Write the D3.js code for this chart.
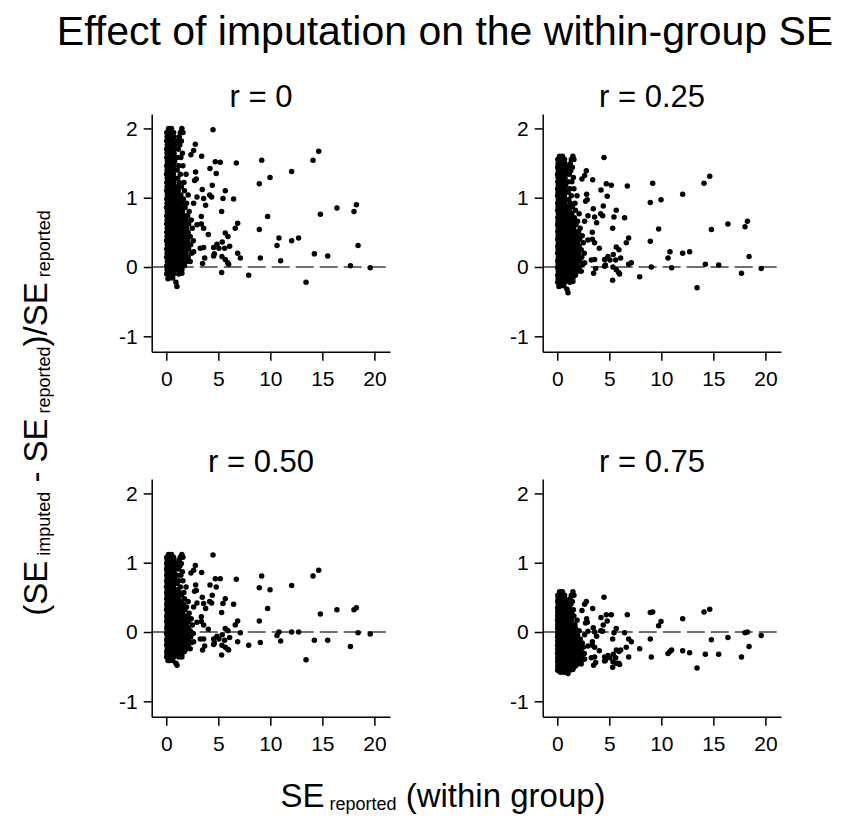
<!DOCTYPE html>
<html><head><meta charset="utf-8">
<script src="https://cdn.jsdelivr.net/npm/d3@7"></script>
<style>body{margin:0;background:#fff}svg{display:block}</style>
</head><body>
<svg id="chart" width="842" height="820"></svg>
<script>
const chartTitle = "Effect of imputation on the within-group SE";
const panelTitles = ["r = 0", "r = 0.25", "r = 0.50", "r = 0.75"];
const xTickValues = [0, 5, 10, 15, 20];
const yTickValues = [-1, 0, 1, 2];

// SE reported (within group) - shared by all panels
const seReported = [
0.22,0.5,1.5, 0.05,0.35,0.7,1.35,1.6, 0.08,0.4,0.75,1.25, 0.04,0.3,0.65,1.1,1.45, 0.1,0.42,0.8,1.3,
0.03,0.35,0.7,1.15, 0.08,0.4,0.75,1.55, 0.05,0.3,0.65,1.05,1.4, 0.1,0.45,0.8, 0.04,0.35,0.7,1.2,1.6,
0.08,0.4,0.75,1.05, 0.03,0.32,0.68,1.35,1.9, 0.1,0.45,0.8,1.1, 0.05,0.38,0.72,1.25,1.7, 0.08,0.4,0.78,1.05,1.45,
0.04,0.35,0.7,1.15,1.75, 0.1,0.42,0.8,1.1,1.4,2.1, 0.05,0.3,0.65,1.0,1.3,1.65, 0.08,0.4,0.75,1.15,1.5,1.95,
0.03,0.35,0.7,1.05,1.35,1.8, 0.1,0.45,0.8,1.2,1.55,2.2, 0.05,0.38,0.72,1.05,1.4,1.75,2.05,
0.08,0.4,0.78,1.15,1.5,1.9,2.4, 0.04,0.35,0.7,1.05,1.35,1.7,2.15, 0.1,0.42,0.8,1.2,1.55,1.95,2.5,
0.05,0.3,0.65,1.0,1.35,1.75,2.1, 0.08,0.4,0.75,1.1,1.45,1.85,2.3, 0.03,0.35,0.7,1.05,1.4,1.7,2.05,2.6,
0.1,0.45,0.8,1.2,1.55,1.95,2.35, 0.05,0.38,0.72,1.05,1.4,1.75,2.15, 0.08,0.4,0.78,1.15,1.5,1.9,2.45,
0.04,0.35,0.7,1.05,1.35,1.7,2.1, 0.1,0.42,0.8,1.2,1.55,1.95,2.3, 0.05,0.3,0.65,1.0,1.35,1.75,
0.08,0.4,0.75,1.1,1.5, 0.04,0.35,0.7,1.2, 0.3,0.62,
4.49,14.65,14.10,9.17,6.73,12.05,9.97,8.94,5.19,4.71, 4.20,4.80,4.42,3.40,2.79,2.63,2.37,2.82,2.88,2.72,
3.46,5.67,4.17,4.36,2.95,3.59,5.45,6.47,3.78,2.63, 16.40,18.27,18.04,14.81,5.32,9.74,3.37,6.86,6.63,8.94,
3.37,2.95,3.59,4.04,5.67,5.93,10.83,10.64,12.72,12.05, 18.43,6.09,4.87,5.38,5.61,5.06,4.55,3.59,3.27,2.63,
6.86,7.12,4.62,5.35,14.23,15.51,9.04,10.99,3.69,4.55, 5.67,5.90,3.49,5.99,17.70,19.60,5.32,7.92,13.43,1.03,
0.93,0.16,1.50
];

// (SE imputed - SE reported)/SE reported, r = 0
const relDiffR0 = [
2.00,2.00,2.00, 1.94,1.94,1.94,1.94,1.94, 1.88,1.88,1.88,1.88, 1.82,1.82,1.82,1.82,1.82, 1.76,1.76,1.76,1.76,
1.70,1.70,1.70,1.70, 1.64,1.64,1.64,1.64, 1.58,1.58,1.58,1.58,1.58, 1.52,1.52,1.52, 1.46,1.46,1.46,1.46,1.46,
1.40,1.40,1.40,1.40, 1.34,1.34,1.34,1.34,1.34, 1.28,1.28,1.28,1.28, 1.22,1.22,1.22,1.22,1.22, 1.16,1.16,1.16,1.16,1.16,
1.10,1.10,1.10,1.10,1.10, 1.04,1.04,1.04,1.04,1.04,1.04, 0.98,0.98,0.98,0.98,0.98,0.98, 0.92,0.92,0.92,0.92,0.92,0.92,
0.86,0.86,0.86,0.86,0.86,0.86, 0.80,0.80,0.80,0.80,0.80,0.80, 0.74,0.74,0.74,0.74,0.74,0.74,0.74,
0.68,0.68,0.68,0.68,0.68,0.68,0.68, 0.62,0.62,0.62,0.62,0.62,0.62,0.62, 0.56,0.56,0.56,0.56,0.56,0.56,0.56,
0.50,0.50,0.50,0.50,0.50,0.50,0.50, 0.44,0.44,0.44,0.44,0.44,0.44,0.44, 0.38,0.38,0.38,0.38,0.38,0.38,0.38,0.38,
0.32,0.32,0.32,0.32,0.32,0.32,0.32, 0.26,0.26,0.26,0.26,0.26,0.26,0.26, 0.20,0.20,0.20,0.20,0.20,0.20,0.20,
0.14,0.14,0.14,0.14,0.14,0.14,0.14, 0.08,0.08,0.08,0.08,0.08,0.08,0.08, 0.02,0.02,0.02,0.02,0.02,0.02,
-0.04,-0.04,-0.04,-0.04,-0.04, -0.10,-0.10,-0.10,-0.10, -0.16,-0.16,
1.98,1.67,1.54,1.54,1.50,1.38,1.29,1.20,1.51,1.52, 1.42,1.35,1.18,1.60,1.77,1.68,1.62,1.37,1.27,1.25,
1.12,1.10,1.04,1.01,1.01,0.99,0.99,0.98,0.89,0.92, 0.85,0.90,0.80,0.76,0.80,0.73,0.73,0.63,0.56,0.54,
0.62,0.61,0.56,0.47,0.49,0.44,0.42,0.31,0.42,0.38, 0.31,0.30,0.33,0.36,0.27,0.27,0.28,0.28,0.27,0.22,
0.20,0.13,0.19,0.15,0.19,0.16,0.13,0.09,0.13,0.16, 0.11,0.06,0.05,0.04,0.02,-0.01,-0.08,-0.12,-0.22,-0.28,
-0.22,-0.17,-0.09
];

// r = 0.25
const relDiffR25 = [
1.60,1.60,1.60, 1.55,1.55,1.55,1.55,1.55, 1.49,1.49,1.49,1.49, 1.44,1.44,1.44,1.44,1.44, 1.39,1.39,1.39,1.39,
1.34,1.34,1.34,1.34, 1.29,1.29,1.29,1.29, 1.23,1.23,1.23,1.23,1.23, 1.18,1.18,1.18, 1.13,1.13,1.13,1.13,1.13,
1.08,1.08,1.08,1.08, 1.03,1.03,1.03,1.03,1.03, 0.97,0.97,0.97,0.97, 0.92,0.92,0.92,0.92,0.92, 0.87,0.87,0.87,0.87,0.87,
0.82,0.82,0.82,0.82,0.82, 0.77,0.77,0.77,0.77,0.77,0.77, 0.71,0.71,0.71,0.71,0.71,0.71, 0.66,0.66,0.66,0.66,0.66,0.66,
0.61,0.61,0.61,0.61,0.61,0.61, 0.56,0.56,0.56,0.56,0.56,0.56, 0.51,0.51,0.51,0.51,0.51,0.51,0.51,
0.45,0.45,0.45,0.45,0.45,0.45,0.45, 0.40,0.40,0.40,0.40,0.40,0.40,0.40, 0.35,0.35,0.35,0.35,0.35,0.35,0.35,
0.30,0.30,0.30,0.30,0.30,0.30,0.30, 0.25,0.25,0.25,0.25,0.25,0.25,0.25, 0.20,0.20,0.20,0.20,0.20,0.20,0.20,0.20,
0.14,0.14,0.14,0.14,0.14,0.14,0.14, 0.09,0.09,0.09,0.09,0.09,0.09,0.09, 0.04,0.04,0.04,0.04,0.04,0.04,0.04,
-0.01,-0.01,-0.01,-0.01,-0.01,-0.01,-0.01, -0.06,-0.06,-0.06,-0.06,-0.06,-0.06,-0.06, -0.12,-0.12,-0.12,-0.12,-0.12,-0.12,
-0.17,-0.17,-0.17,-0.17,-0.17, -0.22,-0.22,-0.22,-0.22, -0.27,-0.27,
1.58,1.31,1.21,1.21,1.17,1.05,0.97,0.93,1.18,1.20, 1.11,1.02,0.88,1.26,1.39,1.32,1.27,1.05,0.97,0.95,
0.84,0.82,0.77,0.74,0.74,0.72,0.72,0.71,0.64,0.66, 0.62,0.66,0.58,0.54,0.56,0.55,0.50,0.42,0.35,0.37,
0.40,0.39,0.35,0.27,0.29,0.25,0.22,0.13,0.22,0.20, 0.15,0.13,0.15,0.18,0.10,0.10,0.11,0.11,0.10,0.06,
0.04,0.06,0.03,0.00,0.04,0.03,0.00,-0.01,-0.02,0.01, -0.04,-0.08,-0.09,-0.10,-0.09,-0.02,-0.19,-0.14,-0.30,-0.37,
-0.32,-0.28,-0.21
];

// r = 0.50
const relDiffR50 = [
1.12,1.12,1.12, 1.08,1.08,1.08,1.08,1.08, 1.04,1.04,1.04,1.04, 0.99,0.99,0.99,0.99,0.99, 0.95,0.95,0.95,0.95,
0.91,0.91,0.91,0.91, 0.87,0.87,0.87,0.87, 0.82,0.82,0.82,0.82,0.82, 0.78,0.78,0.78, 0.74,0.74,0.74,0.74,0.74,
0.70,0.70,0.70,0.70, 0.65,0.65,0.65,0.65,0.65, 0.61,0.61,0.61,0.61, 0.57,0.57,0.57,0.57,0.57, 0.53,0.53,0.53,0.53,0.53,
0.48,0.48,0.48,0.48,0.48, 0.44,0.44,0.44,0.44,0.44,0.44, 0.40,0.40,0.40,0.40,0.40,0.40, 0.36,0.36,0.36,0.36,0.36,0.36,
0.32,0.32,0.32,0.32,0.32,0.32, 0.27,0.27,0.27,0.27,0.27,0.27, 0.23,0.23,0.23,0.23,0.23,0.23,0.23,
0.19,0.19,0.19,0.19,0.19,0.19,0.19, 0.15,0.15,0.15,0.15,0.15,0.15,0.15, 0.10,0.10,0.10,0.10,0.10,0.10,0.10,
0.06,0.06,0.06,0.06,0.06,0.06,0.06, 0.02,0.02,0.02,0.02,0.02,0.02,0.02, -0.02,-0.02,-0.02,-0.02,-0.02,-0.02,-0.02,-0.02,
-0.07,-0.07,-0.07,-0.07,-0.07,-0.07,-0.07, -0.11,-0.11,-0.11,-0.11,-0.11,-0.11,-0.11, -0.15,-0.15,-0.15,-0.15,-0.15,-0.15,-0.15,
-0.19,-0.19,-0.19,-0.19,-0.19,-0.19,-0.19, -0.24,-0.24,-0.24,-0.24,-0.24,-0.24,-0.24, -0.28,-0.28,-0.28,-0.28,-0.28,-0.28,
-0.32,-0.32,-0.32,-0.32,-0.32, -0.36,-0.36,-0.36,-0.36, -0.41,-0.41,
1.11,0.89,0.81,0.81,0.76,0.67,0.61,0.64,0.77,0.77, 0.68,0.65,0.53,0.86,0.96,0.89,0.85,0.68,0.60,0.59,
0.50,0.48,0.44,0.42,0.42,0.41,0.41,0.40,0.34,0.36, 0.32,0.35,0.32,0.26,0.28,0.34,0.22,0.16,0.10,0.16,
0.15,0.14,0.10,0.04,0.05,0.02,0.00,-0.05,0.00,0.00, -0.01,-0.08,-0.06,-0.04,-0.12,-0.10,-0.10,-0.10,-0.10,-0.14,
-0.14,-0.01,-0.16,-0.19,-0.12,-0.12,-0.15,-0.13,-0.20,-0.18, -0.22,-0.25,-0.26,-0.26,-0.21,-0.03,-0.33,-0.19,-0.40,-0.48,
-0.45,-0.41,-0.36
];

// r = 0.75
const relDiffR75 = [
0.58,0.58,0.58, 0.53,0.53,0.53,0.53,0.53, 0.48,0.48,0.48,0.48, 0.44,0.44,0.44,0.44,0.44, 0.40,0.40,0.40,0.40,
0.35,0.35,0.35,0.35, 0.32,0.32,0.32,0.32, 0.29,0.29,0.29,0.29,0.29, 0.26,0.26,0.26, 0.23,0.23,0.23,0.23,0.23,
0.20,0.20,0.20,0.20, 0.17,0.17,0.17,0.17,0.17, 0.14,0.14,0.14,0.14, 0.11,0.11,0.11,0.11,0.11, 0.08,0.08,0.08,0.08,0.08,
0.05,0.05,0.05,0.05,0.05, 0.02,0.02,0.02,0.02,0.02,0.02, -0.01,-0.01,-0.01,-0.01,-0.01,-0.01, -0.04,-0.04,-0.04,-0.04,-0.04,-0.04,
-0.07,-0.07,-0.07,-0.07,-0.07,-0.07, -0.10,-0.10,-0.10,-0.10,-0.10,-0.10, -0.13,-0.13,-0.13,-0.13,-0.13,-0.13,-0.13,
-0.16,-0.16,-0.16,-0.16,-0.16,-0.16,-0.16, -0.19,-0.19,-0.19,-0.19,-0.19,-0.19,-0.19, -0.22,-0.22,-0.22,-0.22,-0.22,-0.22,-0.22,
-0.25,-0.25,-0.25,-0.25,-0.25,-0.25,-0.25, -0.28,-0.28,-0.28,-0.28,-0.28,-0.28,-0.28, -0.31,-0.31,-0.31,-0.31,-0.31,-0.31,-0.31,-0.31,
-0.34,-0.34,-0.34,-0.34,-0.34,-0.34,-0.34, -0.37,-0.37,-0.37,-0.37,-0.37,-0.37,-0.37, -0.40,-0.40,-0.40,-0.40,-0.40,-0.40,-0.40,
-0.43,-0.43,-0.43,-0.43,-0.43,-0.43,-0.43, -0.46,-0.46,-0.46,-0.46,-0.46,-0.46,-0.46, -0.49,-0.49,-0.49,-0.49,-0.49,-0.49,
-0.52,-0.52,-0.52,-0.52,-0.52, -0.55,-0.55,-0.55,-0.55, -0.58,-0.58,
0.50,0.33,0.29,0.29,0.25,0.19,0.15,0.28,0.25,0.25, 0.21,0.16,0.10,0.34,0.44,0.40,0.31,0.19,0.14,0.13,
0.06,0.05,0.02,0.01,0.01,0.00,-0.01,-0.01,-0.06,-0.04, -0.08,0.00,-0.01,-0.11,-0.10,0.09,-0.14,-0.10,-0.22,-0.10,
-0.19,-0.20,-0.22,-0.27,-0.26,-0.28,-0.28,-0.31,-0.30,-0.27, -0.21,-0.26,-0.34,-0.32,-0.37,-0.37,-0.36,-0.36,-0.37,-0.39,
-0.36,-0.14,-0.41,-0.43,-0.32,-0.32,-0.36,-0.26,-0.44,-0.42, -0.45,-0.45,-0.48,-0.47,-0.36,-0.05,-0.51,-0.24,-0.52,-0.60,
-0.58,-0.56,-0.54
];

const panelSeries = [relDiffR0, relDiffR25, relDiffR50, relDiffR75];

const FONT = "'Liberation Sans', Arial, Helvetica, sans-serif";
const svg = d3.select("#chart").style("font-family", FONT);

const colOffset = [0, 391];
const rowOffset = [0, 365];
const plotLeft = 151.7, plotRight = 390, plotTop = 114, plotBottom = 351.7;
const fmtTick = d => String(d);

panelSeries.forEach((ys, i) => {
  const c = i % 2, r = Math.floor(i / 2);
  const g = svg.append("g").attr("transform", `translate(${colOffset[c]},${rowOffset[r]})`);
  const x = d3.scaleLinear().domain([-1.4, 21.5]).range([plotLeft, plotRight]);
  const y = d3.scaleLinear().domain([-1.222, 2.208]).range([plotBottom, plotTop]);

  g.append("line")
    .attr("x1", plotLeft).attr("x2", plotRight)
    .attr("y1", y(0)).attr("y2", y(0))
    .attr("stroke", "#404040").attr("stroke-width", 1.6)
    .attr("stroke-dasharray", "18,6");

  g.append("g").selectAll("circle")
    .data(seReported.map((v, k) => [v, ys[k]]))
    .join("circle")
    .attr("cx", d => x(d[0])).attr("cy", d => y(d[1]))
    .attr("r", 2.75).attr("fill", "#000");

  const xAxis = g.append("g").attr("transform", `translate(0,${plotBottom})`)
    .call(d3.axisBottom(x).tickValues(xTickValues).tickFormat(fmtTick).tickSize(9).tickSizeOuter(0).tickPadding(10));
  const yAxis = g.append("g").attr("transform", `translate(${plotLeft},0)`)
    .call(d3.axisLeft(y).tickValues(yTickValues).tickFormat(fmtTick).tickSize(8).tickSizeOuter(0).tickPadding(6));
  [xAxis, yAxis].forEach(a => {
    a.selectAll("path,line").attr("stroke", "#000").attr("stroke-width", 1.5);
    a.selectAll("text").attr("fill", "#000").style("font-size", "21px").style("font-family", FONT);
  });

  g.append("text")
    .attr("x", 261).attr("y", 107)
    .attr("text-anchor", "middle")
    .style("font-size", "31px").attr("fill", "#000")
    .text(panelTitles[i]);
});

svg.append("text")
  .attr("x", 445).attr("y", 45)
  .attr("text-anchor", "middle")
  .style("font-size", "41px").attr("fill", "#000")
  .text(chartTitle);

// x-axis title
const xt = svg.append("text")
  .attr("x", 443).attr("y", 807)
  .attr("text-anchor", "middle").attr("fill", "#000")
  .style("font-size", "33px").style("white-space", "pre");
xt.append("tspan").text("SE");
xt.append("tspan").style("font-size", "18px").attr("dy", 3).text(" reported");
xt.append("tspan").attr("dy", -3).text(" (within group)");

// y-axis title
const yt = svg.append("text")
  .attr("transform", "translate(47,413) rotate(-90)")
  .attr("text-anchor", "middle").attr("fill", "#000")
  .style("font-size", "33px").style("white-space", "pre");
yt.append("tspan").text("(SE");
yt.append("tspan").style("font-size", "18px").attr("dy", 3).text(" imputed");
yt.append("tspan").attr("dy", -3).text(" - SE");
yt.append("tspan").style("font-size", "18px").attr("dy", 3).text(" reported");
yt.append("tspan").attr("dy", -3).text(")/SE");
yt.append("tspan").style("font-size", "18px").attr("dy", 3).text(" reported");
</script>
</body></html>
